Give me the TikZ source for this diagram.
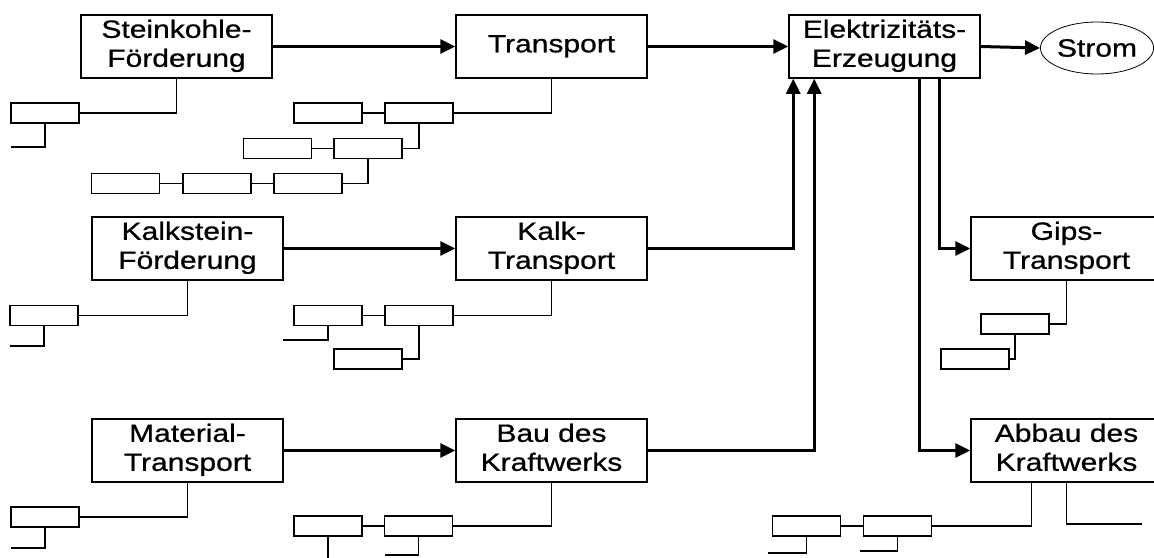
\documentclass[tikz,border=0pt]{standalone}
\usepackage{fontspec}
\setmainfont{Liberation Sans}
\newfontfamily\labelfont[FakeBold=0.7]{Liberation Sans}
\usetikzlibrary{arrows.meta,shapes.geometric,calc}
\newcommand\twolines[2]{\scalebox{1.2}[1]{\labelfont\fontsize{25}{29}\selectfont\begin{tabular}{@{}c@{}}#1\\#2\end{tabular}}}
\newcommand\oneline[1]{\scalebox{1.2}[1]{\labelfont\fontsize{25}{29}\selectfont #1}}
\begin{document}
\begin{tikzpicture}[x=1pt,y=-1pt,
  mainbox/.style={draw,line width=1.5pt,minimum width=191pt,minimum height=63pt,inner sep=0pt},
  subbox/.style={draw,line width=1.5pt,minimum width=68pt,minimum height=20pt,inner sep=0pt},
  subline/.style={line width=1.5pt},
  flow/.style={line width=3pt,-{Triangle[length=15pt,width=14pt]}}]
\useasboundingbox (0,0) rectangle (1154,557);
\clip (0,0) rectangle (1154,557);
\fill[white] (0,0) rectangle (1154,557);
% main boxes
\node[mainbox] (stein) at (176.5,46.5) {\twolines{Steinkohle-}{Förderung}};
\node[mainbox] (trans) at (551.5,46.5) {\twolines{Transport}{}};
\node[mainbox] (elek) at (884.5,46.5) {\twolines{Elektrizitäts-}{Erzeugung}};
\node[draw,ellipse,line width=0.8pt,minimum width=110pt,minimum height=52pt,inner sep=0pt] (strom) at (1097,48) {\oneline{Strom}};
\node[mainbox] (kalk) at (187.5,248.5) {\twolines{Kalkstein-}{Förderung}};
\node[mainbox] (kt) at (551.5,248.5) {\twolines{Kalk-}{Transport}};
\node[mainbox] (gips) at (1066.5,248.5) {\twolines{Gips-}{Transport}};
\node[mainbox] (mat) at (187.5,450.5) {\twolines{Material-}{Transport}};
\node[mainbox] (bau) at (551.5,450.5) {\twolines{Bau des}{Kraftwerks}};
\node[mainbox] (abbau) at (1066.5,450.5) {\twolines{Abbau des}{Kraftwerks}};
% main flows
\coordinate (e1) at ($(elek.south west)+(5,0)$);
\coordinate (e2) at ($(elek.south west)+(26,0)$);
\coordinate (e3) at ($(elek.south west)+(131,0)$);
\coordinate (e4) at ($(elek.south west)+(151,0)$);
\draw[flow] (stein.east) -- (trans.west);
\draw[flow] (trans.east) -- (elek.west);
\draw[flow] (elek.east) -- (strom.west);
\draw[flow] (kalk.east) -- (kt.west);
\draw[flow] (mat.east) -- (bau.west);
\draw[flow] (kt.east) -| (e1);
\draw[flow] (bau.east) -| (e2);
\draw[flow] (e3) |- (abbau.west);
\draw[flow] (e4) |- (gips.west);
% Steinkohle sub
\node[subbox] (s1) at (45,113) {};
\coordinate (f1) at (11,147);
\draw[subline] (stein.south) |- (s1.east);
\draw[subline] (s1.south) |- (f1);
% Transport sub
\node[subbox] (t1) at (328,113) {};
\node[subbox] (t2) at (419,113) {};
\node[subbox] (t3) at (277.5,148.5) {};
\node[subbox] (t4) at (368,148.5) {};
\node[subbox] (t5) at (125.5,183.5) {};
\node[subbox] (t6) at (217,183.5) {};
\node[subbox] (t7) at (308,183.5) {};
\draw[subline] (trans.south) |- (t2.east);
\draw[subline] (t1.east) -- (t2.west);
\draw[subline] (t2.south) |- (t4.east);
\draw[subline] (t3.east) -- (t4.west);
\draw[subline] (t4.south) |- (t7.east);
\draw[subline] (t6.east) -- (t7.west);
\draw[subline] (t5.east) -- (t6.west);
% Kalkstein sub
\node[subbox] (k1) at (44,315.5) {};
\coordinate (f2) at (10,346);
\draw[subline] (kalk.south) |- (k1.east);
\draw[subline] (k1.south) |- (f2);
% Kalk-Transport sub
\node[subbox] (ka) at (328,315.5) {};
\node[subbox] (kb) at (419,315.5) {};
\node[subbox] (kc) at (368,359) {};
\coordinate (f3) at (283,340);
\draw[subline] (kt.south) |- (kb.east);
\draw[subline] (ka.east) -- (kb.west);
\draw[subline] (ka.south) |- (f3);
\draw[subline] (kb.south) |- (kc.east);
% Gips sub
\node[subbox] (g1) at (1015,324) {};
\node[subbox] (g2) at (975,359) {};
\draw[subline] (gips.south) |- (g1.east);
\draw[subline] (g1.south) |- (g2.east);
% Material sub
\node[subbox] (m1) at (45,517) {};
\coordinate (f4) at (11,548);
\draw[subline] (mat.south) |- (m1.east);
\draw[subline] (m1.south) |- (f4);
% Bau sub
\node[subbox] (ba) at (328,526) {};
\node[subbox] (bb) at (418.5,526) {};
\coordinate (f5) at (328,565);
\coordinate (f6) at (385,555);
\draw[subline] (bau.south) |- (bb.east);
\draw[subline] (ba.east) -- (bb.west);
\draw[subline] (ba.south) -- (f5);
\draw[subline] (bb.south) |- (f6);
% Abbau sub
\node[subbox] (aa) at (806.5,526) {};
\node[subbox] (ab) at (897.5,526) {};
\coordinate (a0) at ($(abbau.south)+(-35,0)$);
\coordinate (f7) at (1142,524);
\coordinate (f8) at (768,553);
\coordinate (f9) at (860,551);
\draw[subline] (a0) |- (ab.east);
\draw[subline] (abbau.south) |- (f7);
\draw[subline] (aa.east) -- (ab.west);
\draw[subline] (aa.south) |- (f8);
\draw[subline] (ab.south) |- (f9);
\end{tikzpicture}
\end{document}
